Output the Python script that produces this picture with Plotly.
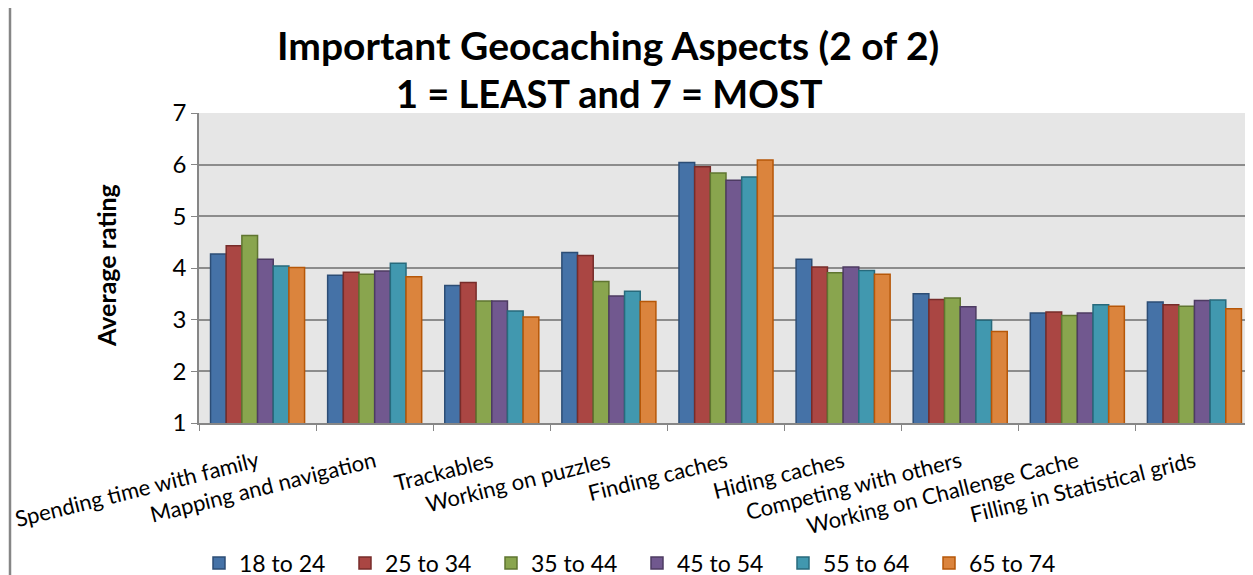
import plotly.graph_objects as go

categories = ["Spending time with family", "Mapping and navigation", "Trackables",
              "Working on puzzles", "Finding caches", "Hiding caches",
              "Competing with others", "Working on Challenge Cache",
              "Filling in Statistical grids"]
series_names = ["18 to 24", "25 to 34", "35 to 44", "45 to 54", "55 to 64", "65 to 74"]
values_18_24 = [4.27, 3.86, 3.66, 4.30, 6.04, 4.17, 3.50, 3.13, 3.34]
values_25_34 = [4.43, 3.92, 3.72, 4.24, 5.96, 4.02, 3.39, 3.15, 3.29]
values_35_44 = [4.63, 3.88, 3.36, 3.74, 5.84, 3.91, 3.42, 3.08, 3.26]
values_45_54 = [4.17, 3.94, 3.36, 3.46, 5.70, 4.02, 3.25, 3.13, 3.37]
values_55_64 = [4.04, 4.09, 3.17, 3.55, 5.76, 3.95, 2.99, 3.29, 3.38]
values_65_74 = [4.01, 3.83, 3.05, 3.35, 6.09, 3.88, 2.77, 3.26, 3.21]
y_ticks = [1, 2, 3, 4, 5, 6, 7]
title_lines = ["Important Geocaching Aspects (2 of 2)", "1 = LEAST and 7 = MOST"]
y_title = "Average rating"

all_values = [values_18_24, values_25_34, values_35_44, values_45_54, values_55_64, values_65_74]
fills = ["#4572A7", "#AA4643", "#89A54E", "#71588F", "#4198AF", "#DB843D"]
lines = ["#2C4D75", "#772C2A", "#5F7530", "#4D3B62", "#276A7C", "#B65708"]

FONT = "Lato"
W, H = 1253, 575
OFF = 8  # page body margin offset
# plot area in viewport pixels
VX0, VX1, VY0, VY1 = 199, 1253, 113, 423
L = VX0 - OFF
R = W - (VX1 - OFF)
T = VY0 - OFF
B = H - (VY1 - OFF)
PW, PH = W - L - R, H - T - B

def px(vx):
    return (vx - VX0) / PW

def py(vy):
    return (VY1 - vy) / PH

fig = go.Figure()
for name, vals, fc, lc in zip(series_names, all_values, fills, lines):
    fig.add_trace(go.Bar(x=categories, y=vals, name=name, base=0,
                         marker=dict(color=fc, line=dict(color=lc, width=1.5))))

fig.update_layout(
    width=W, height=H,
    margin=dict(l=L, r=R, t=T, b=B, autoexpand=False),
    paper_bgcolor="white", plot_bgcolor="#E6E6E6",
    barmode="group", bargap=0.197, bargroupgap=0,
    font=dict(family=FONT, color="black"),
    showlegend=True,
    legend=dict(orientation="h", x=px(199), xanchor="left", y=py(563), yanchor="middle",
                font=dict(family=FONT, size=23), entrywidth=101, entrywidthmode="pixels",
                traceorder="normal", bgcolor="rgba(0,0,0,0)", itemwidth=30),
    xaxis=dict(tickangle=-14, tickfont=dict(family=FONT, size=22), showline=True,
               linecolor="#868686", linewidth=1.5, ticks="outside", tickson="boundaries",
               ticklen=6, tickcolor="#868686", showgrid=False, automargin=False,
               ticklabelstandoff=16),
    yaxis=dict(range=[1, 7], tickvals=y_ticks, tickfont=dict(family=FONT, size=24),
               showline=True, linecolor="#868686", linewidth=1.5, ticks="outside",
               ticklen=6, tickcolor="#868686", gridcolor="#8C8C8C", gridwidth=1.5,
               zeroline=False, automargin=False),
)
fig.add_annotation(text="<b>" + title_lines[0] + "</b>", xref="paper", yref="paper",
                   x=px(608), y=py(45), xanchor="center", yanchor="middle", showarrow=False,
                   font=dict(family=FONT, size=39, color="black"))
fig.add_annotation(text="<b>" + title_lines[1] + "</b>", xref="paper", yref="paper",
                   x=px(609), y=py(93), xanchor="center", yanchor="middle", showarrow=False,
                   font=dict(family=FONT, size=38, color="black"))
fig.add_annotation(text="<b>" + y_title + "</b>", xref="paper", yref="paper",
                   x=px(106), y=py(266), xanchor="center", yanchor="middle", showarrow=False,
                   textangle=-90, font=dict(family=FONT, size=25, color="black"))
# outer chart border (left edge visible)
fig.add_shape(type="rect", xref="paper", yref="paper",
              x0=px(10), x1=px(W + 20), y0=py(H + 20), y1=py(-20),
              line=dict(color="#868686", width=2.5), fillcolor="rgba(0,0,0,0)", layer="below")
fig.write_html("out.html")
